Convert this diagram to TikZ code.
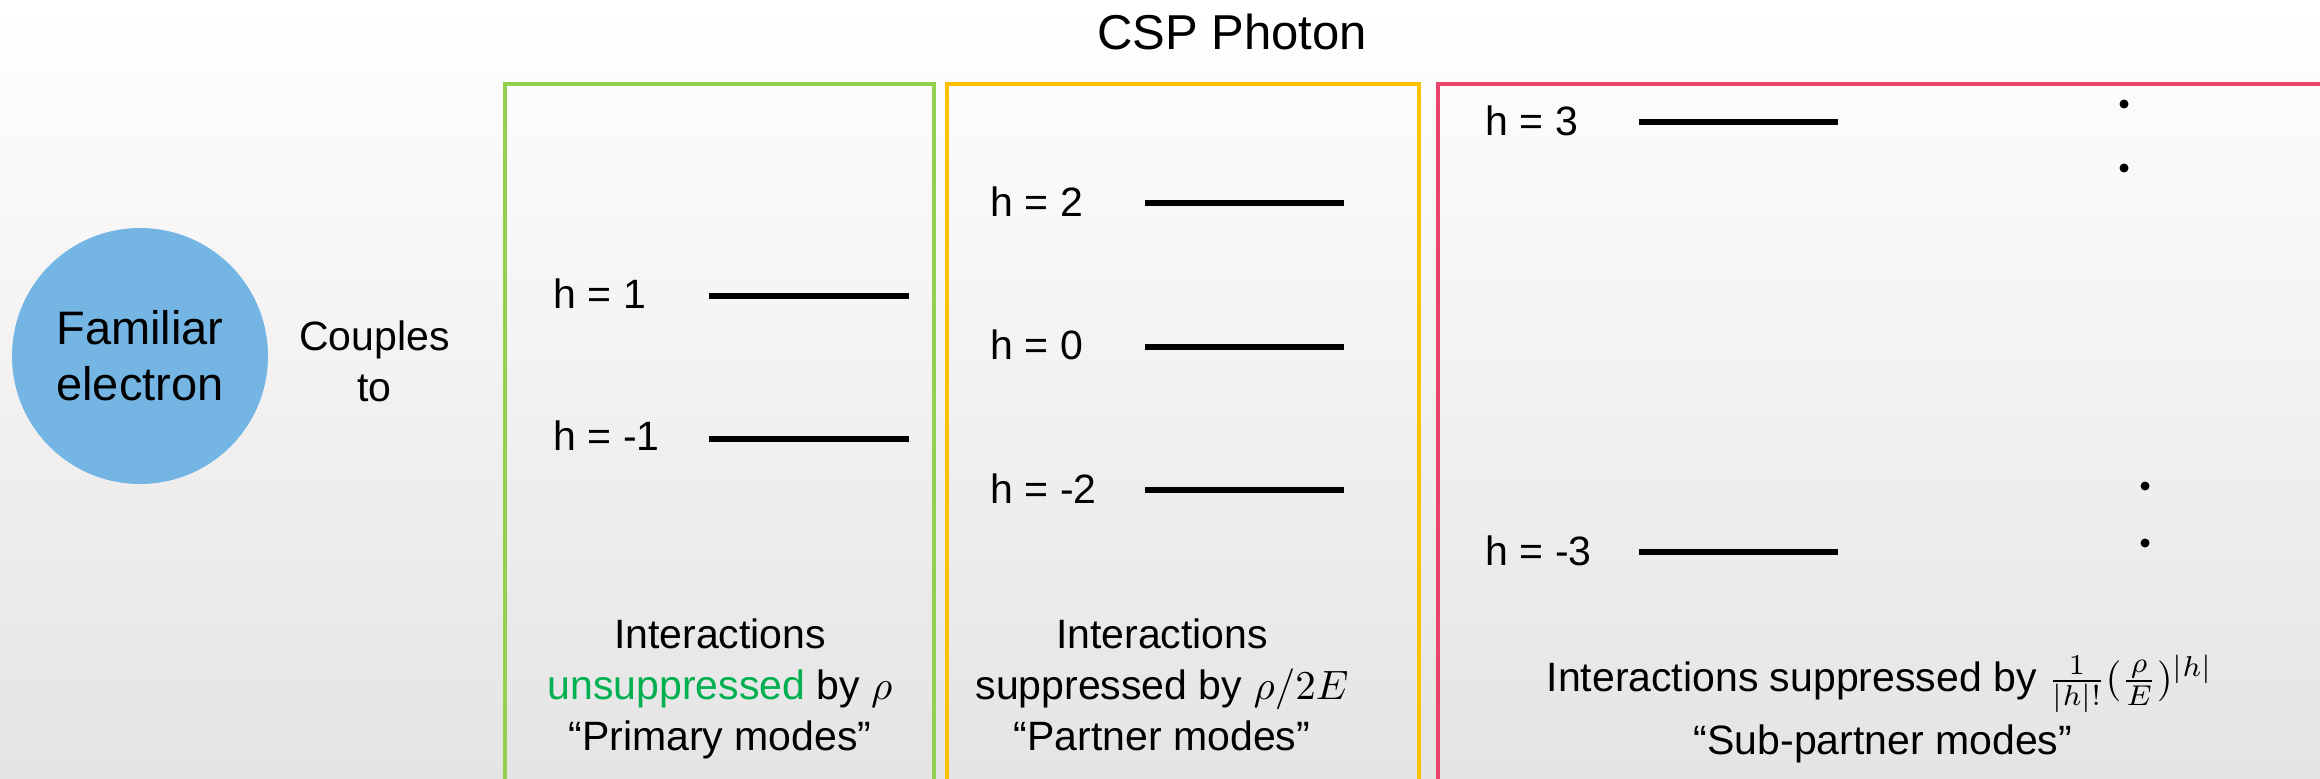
\documentclass[tikz,border=0pt]{standalone}
\usepackage{fix-cm}
\usepackage{fontspec}
\setmainfont{Liberation Sans}
\definecolor{boxgreen}{RGB}{146,208,80}
\definecolor{boxyellow}{RGB}{255,192,0}
\definecolor{boxred}{RGB}{232,67,106}
\definecolor{ballblue}{RGB}{117,181,227}
\definecolor{txtgreen}{RGB}{0,176,80}
\definecolor{bgbottom}{RGB}{228,228,228}
\definecolor{bgmid}{RGB}{246,246,246}
\begin{document}
\begin{tikzpicture}[x=0.25pt,y=-0.25pt,
  body/.style={font=\fontsize{10.25}{12.5}\selectfont, inner sep=0pt, anchor=base},
  lvl/.style={body, anchor=base west},
  levelline/.style={line width=1.5pt},
  frame/.style={line width=0.9pt, line join=miter},
  dot/.style={circle, fill=black, inner sep=0pt, minimum size=2.25pt}]
\useasboundingbox (0,0) rectangle (2320,779);
\clip (0,0) rectangle (2320,779);
\shade[top color=white, middle color=bgmid, bottom color=bgbottom] (0,0) rectangle (2320,779);

% title
\node[body, font=\fontsize{12.25}{14}\selectfont] (title) at (1232,50) {CSP Photon};

% electron
\node[circle, fill=ballblue, minimum size=64pt, inner sep=0pt, align=center,
      font=\fontsize{11.75}{14}\selectfont] (electron) at (140,356) {Familiar\\electron};
\node[body] (cpl1) at (374.5,351) {Couples};
\node[body] (cpl2) at (374.5,401) {to};

% frames
\draw[frame, boxgreen] (505,800) -- (505,84) -- (934,84) -- (934,800);
\draw[frame, boxyellow] (947,800) -- (947,84) -- (1419,84) -- (1419,800);
\draw[frame, boxred] (1438,800) -- (1438,84) -- (2340,84);

% green levels
\node[lvl] (g1) at (553,309) {h = 1};
\node[lvl] (gm1) at (553,451) {h = -1};
\coordinate (g1a) at (709,296); \coordinate (g1b) at (909,296);
\coordinate (gm1a) at (709,439); \coordinate (gm1b) at (909,439);
\draw[levelline] (g1a) -- (g1b);
\draw[levelline] (gm1a) -- (gm1b);

% yellow levels
\node[lvl] (y2) at (990,217) {h = 2};
\node[lvl] (y0) at (990,360) {h = 0};
\node[lvl] (ym2) at (990,503) {h = -2};
\coordinate (y2a) at (1145,203); \coordinate (y2b) at (1344,203);
\coordinate (y0a) at (1145,347); \coordinate (y0b) at (1344,347);
\coordinate (ym2a) at (1145,490); \coordinate (ym2b) at (1344,490);
\draw[levelline] (y2a) -- (y2b);
\draw[levelline] (y0a) -- (y0b);
\draw[levelline] (ym2a) -- (ym2b);

% red levels
\node[lvl] (r3) at (1485,136) {h = 3};
\node[lvl] (rm3) at (1485,565) {h = -3};
\coordinate (r3a) at (1639,122); \coordinate (r3b) at (1838,122);
\coordinate (rm3a) at (1639,552); \coordinate (rm3b) at (1838,552);
\draw[levelline] (r3a) -- (r3b);
\draw[levelline] (rm3a) -- (rm3b);

% dots
\node[dot] (d1) at (2124,104) {};
\node[dot] (d2) at (2124,168) {};
\node[dot] (d3) at (2145,486) {};
\node[dot] (d4) at (2145,543) {};

% bottom texts
\node[body] (gt1) at (720,648) {Interactions};
\node[body] (gt2) at (720,699) {\textcolor{txtgreen}{unsuppressed} by $\rho$};
\node[body] (gt3) at (720,750) {“Primary modes”};

\node[body] (yt1) at (1162,648) {Interactions};
\node[body] (yt2) at (1162,699) {suppressed by $\rho/2E$};
\node[body] (yt3) at (1162,750) {“Partner modes”};

\node[body] (rt1) at (1880,691) {Interactions suppressed by $\frac{1}{|h|!}(\frac{\rho}{E})^{|h|}$};
\node[body] (rt2) at (1883,754) {“Sub-partner modes”};
\end{tikzpicture}
\end{document}
